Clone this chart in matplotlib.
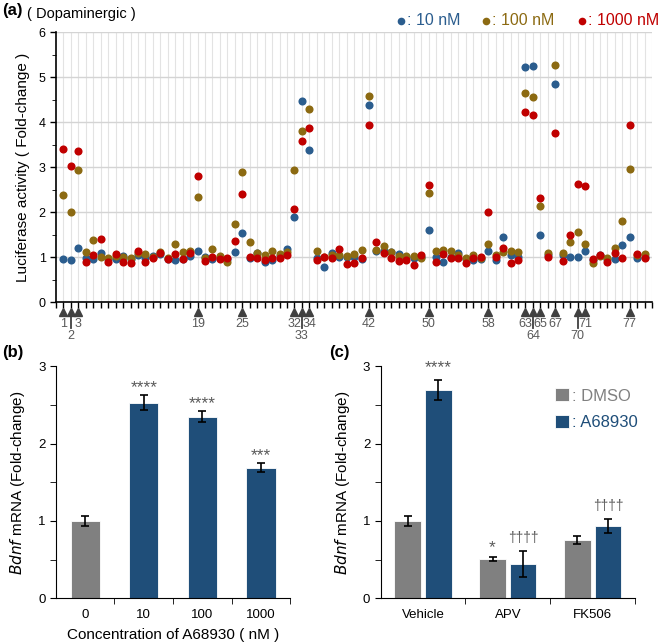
import matplotlib
matplotlib.use("Agg")
import matplotlib.pyplot as plt
import numpy as np

plt.rcParams['font.family'] = ['Liberation Sans', 'DejaVu Sans']

# ---- panel (a) data: compound 1..79, fold change at 10 / 100 / 1000 nM
compounds = list(range(1, 80))
v10 = [0.96, 0.93, 1.21, 0.97, 0.96, 1.09, 0.95, 0.95, 1.02, 0.95,
       1.05, 0.97, 1.03, 1.07, 0.96, 0.94, 0.96, 1.03, 1.13, 1.00,
       0.96, 0.97, 0.95, 1.11, 1.53, 0.97, 1.10, 0.88, 0.93, 1.02,
       1.19, 1.89, 4.48, 3.39, 0.97, 0.78, 1.10, 1.01, 1.01, 1.01,
       0.96, 4.38, 1.14, 1.13, 1.12, 1.07, 1.01, 0.97, 1.00, 1.60,
       1.00, 0.88, 1.00, 1.08, 0.95, 0.93, 0.95, 1.14, 0.94, 1.45,
       1.04, 1.01, 5.23, 5.25, 1.48, 1.05, 4.85, 1.04, 1.01, 1.01,
       1.13, 0.93, 1.04, 0.95, 0.95, 1.27, 1.45, 0.98, 1.00]
v100 = [2.38, 2.01, 2.93, 1.11, 1.37, 1.00, 0.99, 1.02, 1.00, 0.99,
        1.10, 1.06, 1.00, 1.12, 0.97, 1.28, 1.12, 1.13, 2.33, 0.97,
        1.19, 1.02, 0.88, 1.73, 2.89, 1.33, 1.08, 1.05, 1.14, 1.07,
        1.11, 2.93, 3.81, 4.29, 1.14, 1.00, 1.05, 1.05, 1.02, 1.07,
        1.16, 4.59, 1.15, 1.24, 1.11, 1.03, 1.02, 1.02, 0.98, 2.42,
        1.13, 1.15, 1.13, 1.04, 0.98, 1.04, 0.99, 1.30, 1.04, 1.12,
        1.14, 1.12, 4.64, 4.56, 2.14, 1.10, 5.26, 1.09, 1.34, 1.56,
        1.28, 0.87, 1.02, 0.98, 1.20, 1.80, 2.96, 1.04, 1.07]
v1000 = [3.41, 3.03, 3.36, 0.89, 1.05, 1.41, 0.89, 1.06, 0.88, 0.86,
         1.14, 0.90, 0.97, 1.09, 0.95, 1.07, 0.95, 1.08, 2.81, 0.92,
         1.00, 0.96, 0.97, 1.36, 2.41, 1.01, 0.98, 0.93, 0.99, 0.99,
         1.05, 2.07, 3.57, 3.87, 0.94, 1.01, 0.98, 1.17, 0.85, 0.87,
         0.99, 3.93, 1.34, 1.09, 0.98, 0.91, 0.93, 0.82, 1.05, 2.61,
         0.90, 1.07, 0.97, 0.99, 0.87, 0.97, 1.01, 2.01, 1.01, 1.21,
         0.86, 0.93, 4.23, 4.16, 2.32, 1.01, 3.76, 0.92, 1.48, 2.63,
         2.59, 0.96, 1.04, 0.89, 1.09, 0.98, 3.94, 1.06, 0.98]
hits_row1 = [1, 3, 19, 25, 32, 34, 42, 50, 58, 63, 65, 67, 71, 77]
hits_row2 = [2, 33, 64, 70]

# ---- panel (b)
conc_labels = ["0", "10", "100", "1000"]
conc_vals = [1.00, 2.53, 2.35, 1.69]
conc_err = [0.06, 0.10, 0.07, 0.06]
conc_sig = ["", "****", "****", "***"]

# ---- panel (c)
groups = ["Vehicle", "APV", "FK506"]
dmso_vals = [1.00, 0.51, 0.75]
dmso_err = [0.06, 0.025, 0.05]
a689_vals = [2.69, 0.44, 0.93]
a689_err = [0.13, 0.17, 0.09]
dmso_sig = ["", "*", ""]
a689_sig = ["****", "††††", "††††"]

c_blue = "#2B5D8E"
c_gold = "#8C6A12"
c_red = "#C00000"
bar_gray = "#808080"
bar_blue = "#1F4E79"
txt_gray = "#595959"

fig = plt.figure(figsize=(6.58, 6.44), dpi=100)

# ================= (a)
ax = fig.add_axes([0.0851, 0.531, 0.906, 0.419])
ax.set_xlim(0, 80)
ax.set_ylim(0, 6)
ax.set_xticks(range(0, 81))
ax.set_xticklabels([])
ax.set_yticks(range(0, 7))
ax.set_yticks(np.arange(0, 6.01, 0.5), minor=True)
ax.tick_params(axis='y', labelsize=9, length=4, width=1, colors='black')
ax.tick_params(axis='y', which='minor', length=3)
ax.tick_params(axis='x', length=4, width=1)
for xv in range(1, 81):
    ax.axvline(xv, color="#E3E3E3", lw=0.8, zorder=0)
for yv in range(1, 7):
    ax.axhline(yv, color="#D4D4D4", lw=1.0, zorder=0)
for s in ['top', 'right']:
    ax.spines[s].set_visible(False)
ax.spines['left'].set_linewidth(1.2)
ax.spines['bottom'].set_linewidth(1.2)

ax.scatter(compounds, v10, s=34, color=c_blue, zorder=3, linewidths=0)
ax.scatter(compounds, v100, s=34, color=c_gold, zorder=3, linewidths=0)
ax.scatter(compounds, v1000, s=34, color=c_red, zorder=3, linewidths=0)
ax.set_ylabel("Luciferase activity ( Fold-change )", fontsize=11, labelpad=6)

tr = ax.get_xaxis_transform()
for c in hits_row1:
    ax.plot(c, -0.037, marker='^', ms=6, color="#404040", transform=tr, clip_on=False)
    ax.text(c, -0.083, str(c), transform=tr, ha='center', va='center',
            fontsize=9, color=txt_gray)
for c in hits_row2:
    ax.plot([c, c], [-0.04, -0.097], color="#404040", lw=1.3, transform=tr, clip_on=False)
    ax.plot(c, -0.037, marker='^', ms=6, color="#404040", transform=tr, clip_on=False)
    ax.text(c, -0.125, str(c), transform=tr, ha='center', va='center',
            fontsize=9, color=txt_gray)

fig.text(0.003, 0.984, "(a)", fontsize=12, fontweight='bold', va='center')
fig.text(0.041, 0.978, "( Dopaminergic )", fontsize=10.5, va='center')
leg_items = [(0.610, "10 nM", c_blue), (0.739, "100 nM", c_gold), (0.885, "1000 nM", c_red)]
for xp, lab, col in leg_items:
    fig.add_artist(plt.Line2D([xp], [0.968], marker='o', ms=5.5, color=col,
                              markeredgewidth=0, transform=fig.transFigure))
    fig.text(xp + 0.008, 0.968, ": " + lab, fontsize=11.5, color=col, va='center', ha='left')

# ================= (b)
axb = fig.add_axes([0.085, 0.071, 0.356, 0.360])
xb = np.arange(len(conc_labels))
axb.bar(xb, conc_vals, width=0.5, color=[bar_gray] + [bar_blue] * 3,
        edgecolor='white', linewidth=0.6, zorder=2)
axb.errorbar(xb, conc_vals, yerr=conc_err, fmt='none', ecolor='black',
             elinewidth=1.2, capsize=3, capthick=1.2, zorder=3)
for i, s in enumerate(conc_sig):
    if s:
        axb.text(xb[i], conc_vals[i] + conc_err[i] + 0.1, s, ha='center', va='center',
                 fontsize=12.5, color=txt_gray)
axb.set_xlim(-0.5, 3.5)
axb.set_ylim(0, 3)
axb.set_xticks(xb)
axb.set_xticklabels(conc_labels)
axb.set_xticks([0.5, 1.5, 2.5, 3.5], minor=True)
axb.tick_params(axis='x', which='major', length=0, labelsize=9.5, pad=8)
axb.tick_params(axis='x', which='minor', length=4)
axb.set_yticks([0, 1, 2, 3])
axb.set_yticks(np.arange(0, 3.01, 0.5), minor=True)
axb.tick_params(axis='y', labelsize=9.5, length=4)
axb.tick_params(axis='y', which='minor', length=4)
for s in ['top', 'right']:
    axb.spines[s].set_visible(False)
axb.set_ylabel(r"$\it{Bdnf}$ mRNA (Fold-change)", fontsize=11, labelpad=8)
axb.set_xlabel("Concentration of A68930 ( nM )", fontsize=11, labelpad=5)
fig.text(0.003, 0.453, "(b)", fontsize=12, fontweight='bold', va='center')

# ================= (c)
axc = fig.add_axes([0.5786, 0.071, 0.3864, 0.360])
xc = np.arange(len(groups))
off = 0.18
bw = 0.315
axc.bar(xc - off, dmso_vals, width=bw, color=bar_gray, edgecolor='white', linewidth=0.6,
        zorder=2, label=": DMSO")
axc.bar(xc + off, a689_vals, width=bw, color=bar_blue, edgecolor='white', linewidth=0.6,
        zorder=2, label=": A68930")
axc.errorbar(xc - off, dmso_vals, yerr=dmso_err, fmt='none', ecolor='black',
             elinewidth=1.2, capsize=3, capthick=1.2, zorder=3)
axc.errorbar(xc + off, a689_vals, yerr=a689_err, fmt='none', ecolor='black',
             elinewidth=1.2, capsize=3, capthick=1.2, zorder=3)
for i in range(len(groups)):
    if dmso_sig[i]:
        axc.text(xc[i] - off, dmso_vals[i] + dmso_err[i] + 0.12, dmso_sig[i],
                 ha='center', va='center', fontsize=12.5, color=txt_gray)
    if a689_sig[i]:
        fs = 12.5 if a689_sig[i].startswith("*") else 10
        axc.text(xc[i] + off, a689_vals[i] + a689_err[i] + 0.17, a689_sig[i],
                 ha='center', va='center', fontsize=fs, color=txt_gray)
axc.set_xlim(-0.5, 2.5)
axc.set_ylim(0, 3)
axc.set_xticks(xc)
axc.set_xticklabels(groups)
axc.set_xticks([0.5, 1.5, 2.5], minor=True)
axc.tick_params(axis='x', which='major', length=0, labelsize=9.5, pad=8)
axc.tick_params(axis='x', which='minor', length=4)
axc.set_yticks([0, 1, 2, 3])
axc.set_yticks(np.arange(0, 3.01, 0.5), minor=True)
axc.tick_params(axis='y', labelsize=9.5, length=4)
axc.tick_params(axis='y', which='minor', length=4)
for s in ['top', 'right']:
    axc.spines[s].set_visible(False)
axc.set_ylabel(r"$\it{Bdnf}$ mRNA (Fold-change)", fontsize=11, labelpad=8)
leg = axc.legend(loc='upper right', bbox_to_anchor=(1.07, 0.97), frameon=False,
                 fontsize=12, handlelength=0.8, handleheight=0.8, handletextpad=0.2,
                 labelspacing=0.7)
for t, col in zip(leg.get_texts(), [bar_gray, bar_blue]):
    t.set_color(col)
fig.text(0.500, 0.453, "(c)", fontsize=12, fontweight='bold', va='center')

fig.savefig("out.png", dpi=100)
